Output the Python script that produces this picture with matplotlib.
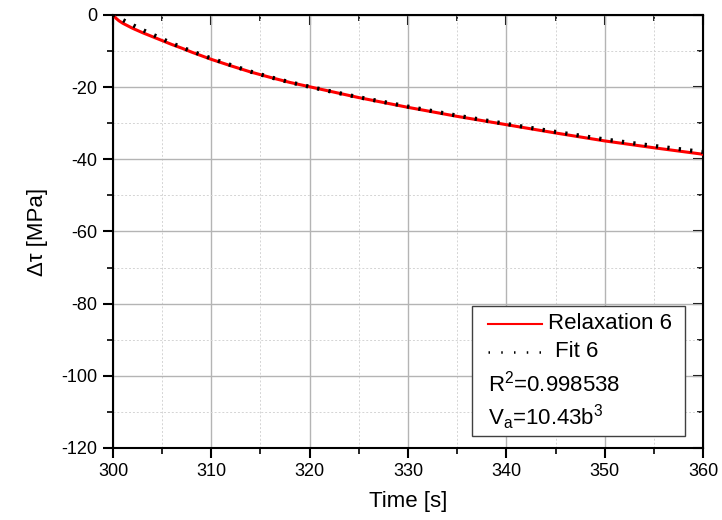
import matplotlib.pyplot as plt
from matplotlib.ticker import MultipleLocator
from matplotlib.patches import Rectangle
from matplotlib.lines import Line2D

plt.rcParams['font.family'] = ['Liberation Sans', 'DejaVu Sans']
plt.rcParams['axes.unicode_minus'] = False
plt.rcParams['mathtext.default'] = 'regular'

# measured relaxation curve
time_relax = [300, 300.3, 300.6, 301, 301.5, 302, 303, 304, 305, 306, 307, 308, 309, 310,
              312, 314, 316, 318, 320, 322, 325, 330, 335, 340, 345, 350, 355, 360]
tau_relax = [0, -0.9, -1.6, -2.3, -3.0, -3.7, -4.9, -6.0, -7.1, -8.2, -9.2, -10.3, -11.3, -12.3,
             -14.1, -15.8, -17.3, -18.7, -19.9, -21.1, -22.9, -25.6, -28.1, -30.4, -32.7, -34.9, -36.8, -38.6]

# fitted curve
time_fit = [300, 301, 302, 303, 304, 305, 306, 307, 308, 309, 310, 312, 314, 316, 318,
            320, 322, 325, 330, 335, 340, 345, 350, 355, 360]
tau_fit = [0, -1.4, -2.8, -4.15, -5.4, -6.65, -7.85, -9.0, -10.05, -11.05, -12.05, -13.9, -15.7,
           -17.25, -18.65, -19.9, -21.1, -22.8, -25.4, -27.9, -30.2, -32.4, -34.5, -36.3, -38.0]

fig = plt.figure(figsize=(7.22, 5.20), dpi=100)
ax = fig.add_axes([0.1565, 0.1385, 0.8172, 0.8327])

ax.plot(time_relax, tau_relax, color='#ff0000', lw=2.2, zorder=3)
ax.plot(time_fit, tau_fit, color='black', lw=3.0, linestyle=(0, (0.55, 2.2)),
        dash_capstyle='butt', zorder=4)

ax.set_xlim(300, 360)
ax.set_ylim(-120, 0)
ax.xaxis.set_major_locator(MultipleLocator(10))
ax.xaxis.set_minor_locator(MultipleLocator(5))
ax.yaxis.set_major_locator(MultipleLocator(20))
ax.yaxis.set_minor_locator(MultipleLocator(10))

ax.grid(which='major', color='#b4b4b4', lw=1.0, ls='-')
ax.grid(which='minor', color='#d4d4d4', lw=0.7, ls=(0, (2, 2)))
ax.set_axisbelow(True)

for s in ax.spines.values():
    s.set_linewidth(1.5)
    s.set_color('black')

ax.tick_params(which='major', direction='out', length=7, width=1.5, labelsize=13, pad=4)
ax.tick_params(which='minor', direction='out', length=4, width=1.2)

# mirrored inward ticks on top and right
top = ax.secondary_xaxis('top')
top.xaxis.set_major_locator(MultipleLocator(10))
top.xaxis.set_minor_locator(MultipleLocator(5))
top.tick_params(which='major', direction='in', length=7, width=1.5, labeltop=False)
top.tick_params(which='minor', direction='in', length=4.5, width=1.2)
right = ax.secondary_yaxis('right')
right.yaxis.set_major_locator(MultipleLocator(20))
right.yaxis.set_minor_locator(MultipleLocator(10))
right.tick_params(which='major', direction='in', length=7, width=1.5, labelright=False)
right.tick_params(which='minor', direction='in', length=4.5, width=1.2)

ax.set_xlabel('Time [s]', fontsize=16, labelpad=8)
ax.set_ylabel('\u0394\u03c4 [MPa]', fontsize=16, labelpad=10)

# legend box
ax.add_patch(Rectangle((0.608, 0.028), 0.3615, 0.30, transform=ax.transAxes,
                       facecolor='white', edgecolor='#404040', lw=1.0, zorder=5))
ax.add_line(Line2D([0.636, 0.727], [0.287, 0.287], transform=ax.transAxes,
                   color='#ff0000', lw=1.5, zorder=6))
ax.add_line(Line2D([0.636, 0.727], [0.222, 0.222], transform=ax.transAxes,
                   color='black', lw=1.8, linestyle=(0, (0.6, 4.5)), zorder=6))
ax.text(0.738, 0.287, 'Relaxation 6', transform=ax.transAxes, fontsize=16,
        va='center', ha='left', zorder=6)
ax.text(0.749, 0.222, 'Fit 6', transform=ax.transAxes, fontsize=16,
        va='center', ha='left', zorder=6)
ax.text(0.636, 0.148, 'R$^2$=0.998538', transform=ax.transAxes, fontsize=16,
        va='center', ha='left', zorder=6)
ax.text(0.636, 0.072, 'V$_a$=10.43b$^3$', transform=ax.transAxes, fontsize=16,
        va='center', ha='left', zorder=6)

fig.savefig('out.png', dpi=100)
